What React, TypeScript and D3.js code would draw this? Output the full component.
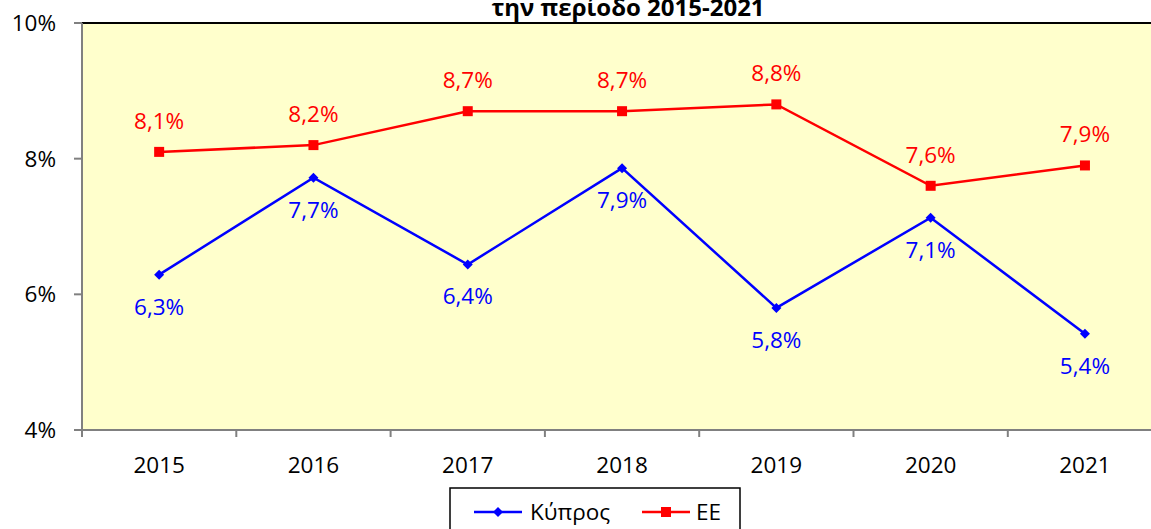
import React from "react";
import * as d3 from "d3";

const years = ["2015", "2016", "2017", "2018", "2019", "2020", "2021"];
const cyprus = [6.29, 7.72, 6.44, 7.86, 5.8, 7.13, 5.42];
const eu = [8.1, 8.2, 8.7, 8.7, 8.8, 7.6, 7.9];
const yTicks = [4, 6, 8, 10];
const seriesNames = ["Κύπρος", "ΕΕ"];

const W = 1151;
const H = 529;
const FONT = "'Open Sans', 'Noto Sans', sans-serif";
const FS = 22.5;

export default function App() {
  const left = 82;
  const top = 23;
  const bottom = 430;
  const step = 154.3;
  const x = d3
    .scaleBand()
    .domain(years)
    .range([left, left + step * years.length])
    .padding(0);
  const y = d3.scaleLinear().domain([4, 10]).range([bottom, top]);
  const cx = (yr: string) => (x(yr) as number) + x.bandwidth() / 2;
  const line = d3
    .line<number>()
    .x((_, i) => cx(years[i]))
    .y((d) => y(d));
  const fmt = (v: number) => d3.format(".1f")(v).replace(".", ",") + "%";

  // band boundaries for the category tick marks
  const tickXs = years.map((yr) => x(yr) as number).concat([left + step * years.length]);

  return (
    <svg
      width={W}
      height={H}
      style={{ position: "absolute", left: 0, top: 0, background: "#fff" }}
      fontFamily={FONT}
    >
      {/* title, first line cut off by the crop */}
      <text x={628} y={16} textAnchor="middle" fontSize={24} fontWeight="bold" fill="#000">
        την περίοδο 2015-2021
      </text>

      {/* plot area */}
      <rect x={left} y={top} width={W - left + 20} height={bottom - top} fill="#FFFFCC" />
      <line x1={left} x2={W} y1={top} y2={top} stroke="#000" strokeWidth={2} />
      <line x1={left} x2={left} y1={top} y2={bottom} stroke="#808080" strokeWidth={2} />
      <line x1={left} x2={W} y1={bottom} y2={bottom} stroke="#808080" strokeWidth={2} />

      {/* y axis */}
      {yTicks.map((t) => (
        <g key={t}>
          <line x1={left - 8} x2={left} y1={y(t)} y2={y(t)} stroke="#808080" strokeWidth={2} />
          <text x={left - 26} y={y(t)} dy="0.35em" textAnchor="end" fontSize={FS} fill="#000">
            {t}%
          </text>
        </g>
      ))}

      {/* x axis */}
      {tickXs.map((t, i) => (
        <line key={i} x1={t} x2={t} y1={bottom} y2={bottom + 7} stroke="#808080" strokeWidth={2} />
      ))}
      {years.map((yr) => (
        <text key={yr} x={cx(yr)} y={465} dy="0.35em" textAnchor="middle" fontSize={FS} fill="#000">
          {yr}
        </text>
      ))}

      {/* EU */}
      <path d={line(eu) || ""} fill="none" stroke="#FF0000" strokeWidth={2.5} />
      {eu.map((v, i) => (
        <g key={i}>
          <rect x={cx(years[i]) - 5} y={y(v) - 5} width={10} height={10} fill="#FF0000" />
          <text x={cx(years[i])} y={y(v) - 31} dy="0.35em" textAnchor="middle" fontSize={FS} fill="#FF0000">
            {fmt(v)}
          </text>
        </g>
      ))}

      {/* Cyprus */}
      <path d={line(cyprus) || ""} fill="none" stroke="#0000FF" strokeWidth={2.5} />
      {cyprus.map((v, i) => (
        <g key={i}>
          <path
            d={`M${cx(years[i])},${y(v) - 5}L${cx(years[i]) + 5},${y(v)}L${cx(years[i])},${y(v) + 5}L${cx(years[i]) - 5},${y(v)}Z`}
            fill="#0000FF"
          />
          <text x={cx(years[i])} y={y(v) + 32} dy="0.35em" textAnchor="middle" fontSize={FS} fill="#0000FF">
            {fmt(Math.round(v * 10) / 10)}
          </text>
        </g>
      ))}

      {/* legend */}
      <rect x={450} y={488} width={290} height={50} fill="#fff" stroke="#000" strokeWidth={1.5} />
      <g>
        <line x1={474} x2={522} y1={512} y2={512} stroke="#0000FF" strokeWidth={2.5} />
        <path d="M498,507L503,512L498,517L493,512Z" fill="#0000FF" />
        <text x={530} y={512} dy="0.35em" fontSize={FS} fill="#000">
          {seriesNames[0]}
        </text>
        <line x1={642} x2={690} y1={512} y2={512} stroke="#FF0000" strokeWidth={2.5} />
        <rect x={661} y={507} width={10} height={10} fill="#FF0000" />
        <text x={696} y={512} dy="0.35em" fontSize={FS} fill="#000">
          {seriesNames[1]}
        </text>
      </g>
    </svg>
  );
}
